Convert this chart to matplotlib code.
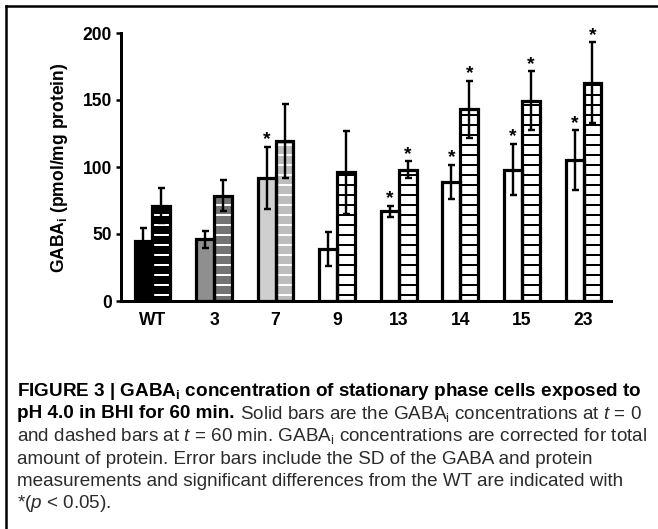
import matplotlib
matplotlib.use("Agg")
import matplotlib.pyplot as plt
from matplotlib.lines import Line2D
import numpy as np

# data (pmol/mg protein)
strains = ["WT", "3", "7", "9", "13", "14", "15", "23"]
gaba_t0 = [45, 46, 92, 39, 67, 89, 98, 105]
err_t0 = [9.5, 6.5, 23, 12.8, 4, 12.8, 19.2, 22.3]
gaba_t60 = [71, 78.5, 119.5, 96, 98, 143, 149.5, 163]
err_t60 = [13, 11.5, 27.5, 31, 6.3, 21.5, 22, 30]
sig_t0 = [False, False, True, False, True, True, True, True]
sig_t60 = [False, False, False, False, True, True, True, True]
yticks = [0, 50, 100, 150, 200]

# bar styles
solid_colors = ["black", "#8f8f8f", "#cfcfcf"] + ["white"] * 5
dashed_colors = ["black", "#747474", "#bdbdbd"] + ["white"] * 5
hatch_colors = ["white"] * 3 + ["black"] * 5

DPI = 60
W, H = 658, 529


def pt(v):
    # pixels -> points at this dpi
    return v * 72 / DPI


plt.rcParams["font.family"] = ["Liberation Sans", "DejaVu Sans"]
plt.rcParams["mathtext.fontset"] = "custom"
plt.rcParams["mathtext.rm"] = "Liberation Sans"
plt.rcParams["mathtext.it"] = "Liberation Sans:italic"
plt.rcParams["mathtext.bf"] = "Liberation Sans:bold"
plt.rcParams["hatch.linewidth"] = pt(2)

fig = plt.figure(figsize=(W / DPI, H / DPI), dpi=DPI)
ax = fig.add_axes([121 / W, 1 - 301 / H, (610.6 - 121) / W, (301 - 33) / H])

x = np.arange(len(strains))
w = 0.29
xs = x - w / 2
xd = x + w / 2

# fill + hatch, then outline, then error bars
ax.bar(xs, gaba_t0, w, color=solid_colors, linewidth=0, zorder=2)
ax.bar(xd, gaba_t60, w, color=dashed_colors, edgecolor=hatch_colors,
       hatch="-", linewidth=0, zorder=2)
ax.bar(xs, gaba_t0, w, fill=False, edgecolor="black", linewidth=pt(3.2), zorder=3)
ax.bar(xd, gaba_t60, w, fill=False, edgecolor="black", linewidth=pt(3.2), zorder=3)
ax.errorbar(xs, gaba_t0, yerr=err_t0, fmt="none", ecolor="black",
            elinewidth=pt(2.4), capsize=pt(3.5), capthick=pt(2.4), zorder=4)
ax.errorbar(xd, gaba_t60, yerr=err_t60, fmt="none", ecolor="black",
            elinewidth=pt(2.4), capsize=pt(3.5), capthick=pt(2.4), zorder=4)

for i in range(len(strains)):
    if sig_t0[i]:
        ax.annotate("*", (xs[i], gaba_t0[i] + err_t0[i]), xytext=(0, pt(2.5)),
                    textcoords="offset points", ha="center", va="baseline",
                    fontsize=pt(19), fontweight="bold")
    if sig_t60[i]:
        ax.annotate("*", (xd[i], gaba_t60[i] + err_t60[i]), xytext=(0, pt(2.5)),
                    textcoords="offset points", ha="center", va="baseline",
                    fontsize=pt(19), fontweight="bold")

ax.set_xlim(-0.51, 7.44)
ax.set_ylim(0, 200)
ax.set_xticks(x)
ax.set_xticklabels(strains, fontsize=pt(17.5), fontweight="bold")
ax.set_yticks(yticks)
ax.set_yticklabels([str(v) for v in yticks], fontsize=pt(17.5), fontweight="bold")
ax.tick_params(axis="x", length=0, pad=pt(11))
ax.tick_params(axis="y", direction="out", length=pt(5), width=pt(2.5), pad=pt(4))
for s in ["top", "right"]:
    ax.spines[s].set_visible(False)
for s in ["left", "bottom"]:
    ax.spines[s].set_linewidth(pt(3))

fig.text(60 / W, 1 - 168 / H, r"GABA$_\mathbf{i}$ (pmol/mg protein)", rotation=90,
         ha="center", va="center", fontsize=pt(17.5), fontweight="bold")

# frame around the figure (top and left only)
fig.add_artist(Line2D([6 / W, 1], [1 - 6 / H, 1 - 6 / H], color="black", lw=pt(2.5)))
fig.add_artist(Line2D([6 / W, 6 / W], [0, 1 - 6 / H], color="black", lw=pt(2.5)))

# caption
r = fig.canvas.get_renderer()
cap_color = "#2b2b2b"
left = 17
base = [396, 418.5, 441, 463.5, 486, 508.5]
line1 = r"FIGURE 3 | GABA$_\mathbf{i}$ concentration of stationary phase cells exposed to"
fs = pt(17)
t1 = fig.text(left / W, 1 - base[0] / H, line1, fontsize=fs, fontweight="bold",
              va="baseline", color="black")
fs = fs * 625 / t1.get_window_extent(r).width
t1.set_fontsize(fs)

t2a = fig.text(left / W, 1 - base[1] / H, "pH 4.0 in BHI for 60 min.", fontsize=fs,
               fontweight="bold", va="baseline", color="black")
x2 = t2a.get_window_extent(r).x1 + fs * DPI / 72 * 0.28
fig.text(x2 / W, 1 - base[1] / H,
         r"Solid bars are the GABA$_\mathrm{i}$ concentrations at $t$ = 0",
         fontsize=fs, va="baseline", color=cap_color)

rest = [
    r"and dashed bars at $t$ = 60 min. GABA$_\mathrm{i}$ concentrations are corrected for total",
    "amount of protein. Error bars include the SD of the GABA and protein",
    "measurements and significant differences from the WT are indicated with",
    r"*($p$ < 0.05).",
]
for k, line in enumerate(rest):
    fig.text(left / W, 1 - base[k + 2] / H, line, fontsize=fs, va="baseline",
             color=cap_color)

fig.savefig("out.png", dpi=DPI)
